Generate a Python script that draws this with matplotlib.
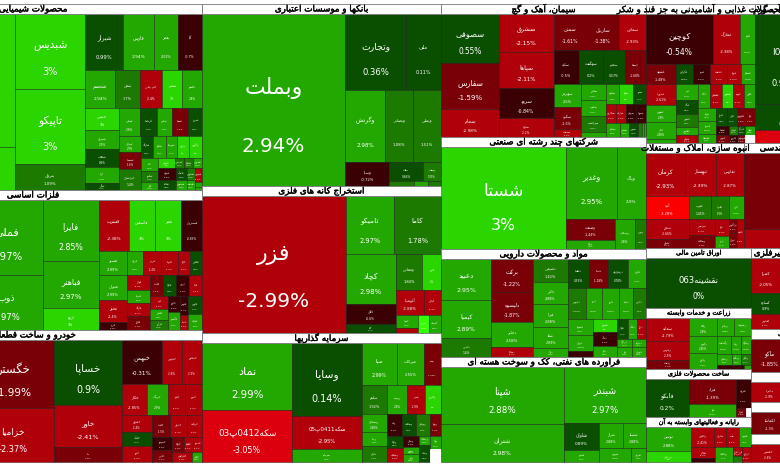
import re
import numpy as np
import matplotlib
matplotlib.use('Agg')
import matplotlib.pyplot as plt
import matplotlib.patheffects as pe
from matplotlib.colors import ListedColormap, BoundaryNorm
from matplotlib.patches import Rectangle

# strips: n > 0 stacks n tiles in a column on the left, n < 0 puts n tiles in a row on top
chem_title = 'محصولات شیمیایی'
chem_names = ['پارس', 'نوری', 'شفن', 'شبدیس', 'تاپیکو', 'بترول', 'شیراز', 'فارس', 'بفجر', 'آبا', 'شخصم', 'شفن', 'جم پیلن', 'شغدیر', 'پاکشو',
              'حدیس', 'شیران', 'شلعاب', 'آریا', 'شگل', 'شپلی', 'کرماشا', 'شپاس', 'شسپا', 'شبریز', 'شرانل', 'شسینا', 'خراسان', 'شاراک', 'شکلر', 'شوینده', 'مارون', 'زاگرس', 'لاله', 'شکبیر', 'کلر', 'شملی', 'شصدف', 'شتوکا', 'شدوص', 'شیری', 'شاملا', 'پلاسک', 'شپدیس', 'شپارس', 'دهدشت', 'شبهرن', 'شجم', 'شنفت']
chem_pcts = [3, 3, 3, 3, 3, 1.09, 0.99, 2.94, 2.01, -0.7, 2.94, 1.7, -2.4, 3, 2.8,
             3, 2.5, 0.6, 2.9, 0.4, 2.9, 0.9, 2.6, -1.5, 0.8, 2.9, -1.6, 1.4, 0.6, 2.8, 2.7, 3, 3, 2.5, 1.2, 2.4, 3, 1.3, 1.5, 2.6, -0.2, 0.5, 0.9, 2.9, 1.3, 2.5, -2.4, 2.7, 2.9]
chem_areas = [13376, 9975, 3225, 5250, 5250, 1820, 2128, 1736, 1344, 1344, 1140, 950, 836, 760, 760,
              748, 646, 612, 544, 238, 588, 476, 420, 448, 392, 352, 352, 462, 264, 286, 242, 264, 286, 221, 187, 136, 170, 90, 90, 90, 216, 180, 132, 110, 96, 80, 100, 30, 24]
chem_strips = [1, 2, 3, -4, -5, 5, -5, 3, -5, 3, -4, 2, 2, 2, 3]

metal_title = 'فلزات اساسی'
metal_names = ['فولاد', 'فملی', 'ذوب', 'فایرا', 'فباهنر', 'ارفع', 'فسرب', 'فاسمین', 'فجر', 'فسبزوار',
               'فسبز', 'فروی', 'هرمز', 'فلوله', 'کاوه', 'فخاس', 'فنوال', 'فخوز', 'فرود', 'فولاژ', 'فمراد', 'فاراک', 'فجام', 'فکمند', 'فافزا', 'ذوبین', 'فپنتا', 'فزر', 'فغدیر', 'فرآور', 'فالوم', 'فگستر', 'فتوس', 'فصبا', 'فارس', 'فولای']
metal_pcts = [2.9, 2.97, 2.97, 2.85, 2.97, 3, -2.38, 3, 3, -0.85,
              2.99, 2.5, -2.4, -2.6, -2.3, 0.8, 2.99, -2.4, -0.5, -2.4, 2.9, -2.3, -1.2, -1.2, 0.9, -0.5, -2.3, -2.1, 2.9, 1.2, -0.4, 2.8, -0.3, -2.5, 0.4, 2.9]
metal_areas = [13674, 5328, 3960, 3416, 2576, 1232, 1500, 1350, 1300, 1050,
               672, 408, 432, 408, 288, 288, 700, 616, 224, 330, 286, 286, 308, 280, 260, 280, 260, 221, 204, 170, 192, 228, 144, 120, 234, 221]
metal_strips = [1, 2, 3, -4, -6, 3, 4, -4, 3, 2, 2, 2]

auto_title = 'خودرو و ساخت قطعات'
auto_names = ['خودرو', 'خگستر', 'خزامیا', 'خساپا', 'خاور', 'ما', 'خبهمن', 'خپارس', 'خمحور',
              'خکار', 'خرینگ', 'خفنر', 'خمهر', 'خشرق', 'خکمک', 'ختور', 'خلنت', 'خدیزل', 'خریخت', 'خموتور', 'خاذین', 'ختوقا', 'خفولا', 'خنصیر', 'خچرخش', 'خلیبل']
auto_pcts = [-2.6, -1.99, -2.37, 0.9, -2.41, -1.5, -0.31, -2.6, -2.5,
             -2.85, 2.9, -2.6, -2.5, -2.4, 0.7, -2.3, -1.5, -2.4, -2.5, -0.5, -1.3, -1.4, -2.1, -2.3, -2.4, 2.6]
auto_areas = [13284, 5658, 4428, 4488, 2856, 1020, 1760, 880, 880,
              800, 672, 544, 544, 510, 420, 480, 396, 374, 330, 260, 240, 180, 135, 135, 200, 100]
auto_strips = [1, 2, 3, -3, -4, 3, -3, 2, -3, -2]

bank_title = 'بانکها و موسسات اعتباری'
bank_names = ['وبملت', 'وتجارت', 'ملی', 'وگردش', 'وبصادر', 'وبملی', 'وسپا', 'ملت', 'وپست', 'وزمین', 'وکار', 'وسینا']
bank_pcts = [2.94, 0.36, 0.11, 2.98, 1.08, 1.51, -0.72, 0.66, 1.09, 1.1, 2.6, 1.3]
bank_areas = [24596, 4560, 2660, 2880, 2016, 2016, 1056, 646, 342, 125, 70, 65]
bank_strips = [1, -2, -3, 1, -2, -3]

mine_title = 'استخراج کانه های فلزی'
mine_names = ['فزر', 'تامیکو', 'کاما', 'کچاد', 'کگل', 'کالا', 'ومعادن', 'کنور', 'آلومینا', 'کبافق', 'کسرا', 'کروی', 'کپرور', 'کمیناب']
mine_pcts = [-2.99, 2.97, 1.78, 2.98, -0.6, 0.7, 1.84, 3, -2.88, -2.4, 2.5, -2.3, 3.4, 2.8]
mine_areas = [19591, 2784, 2726, 2500, 1000, 450, 936, 684, 700, 425, 286, 110, 198, 216]
mine_strips = [1, -2, 3, -2, -2, 2, 1, 1]

inv_title = 'سرمایه گذاریها'
inv_names = ['نماد', 'سکه0412پ03', 'وسایا', 'سکه0411پ05', 'سرمایه', 'صبا', 'میرکات', 'پسته', 'سلیم', 'وبیمه', 'شمر', 'وخارزم',
             'وسبحان', 'وصنا', 'ثامان', 'ودی', 'وساخت', 'وبوعلی', 'وپویا', 'وتوکا', 'وسکاب', 'ونیکی', 'وسین', 'واتی', 'وصنعت', 'وملت', 'وآوا', '']
inv_pcts = [2.99, -3.05, 0.14, -2.95, 2.8, 2.99, 2.55, -1.08, 1.92, 2.6, -2.9, 3,
            2.98, 2.8, 1.7, -0.6, 0.9, 1.2, -1.4, 0.5, -2.6, -0.6, 2.8, 2.6, 2.8, 0.9, 2.9, np.nan]
inv_areas = [6030, 4680, 5037, 2277, 897, 1470, 1134, 714, 725, 580, 522, 464,
             450, 350, 400, 330, 308, 308, 242, 192, 224, 176, 112, 128, 99, 187, 143, 143]
inv_strips = [2, 3, -3, -4, 3, -4, 2, 3, 2, 2]

cem_title = 'سیمان، آهک و گچ'
cem_names = ['سصوفی', 'سفارس', 'سجام', 'سشرق', 'سپاها', 'سرود', 'ساوه', 'سمتن', 'ساربیل', 'سمازن', 'سلیه', 'سهگمت', 'سفانو', 'ایستا',
             'سهرمز', 'سکرد', 'سدشت', 'سخزر', 'سغرب', 'سرچشمه', 'سیلام', 'سکرما', 'سفار', 'سنیر', 'سکارون', 'ساراب', 'سبهان', 'سبزوا', 'سبجنو', 'سقاین', 'سنوین', 'سخاش', 'سپید', 'سیتا']
cem_pcts = [0.55, -1.59, -2.98, -2.15, -2.11, -0.84, -2.2, -1.61, -1.38, -2.93, -0.5, 0.2, 0.57, -1.68,
            2.5, -1.5, -2.2, 2.8, 2.7, 1.6, 2.7, 2.8, 3, 0.7, -2.3, -2.4, -0.6, -0.5, 2.9, 2.5, 0.9, 1.1, 2.6, 2.7]
cem_areas = [2842, 2668, 1624, 2052, 1944, 1620, 1026, 1188, 1152, 972, 850, 816, 748, 714,
             621, 594, 216, 400, 400, 400, 125, 260, 280, 260, 190, 190, 190, 190, 196, 126, 126, 50, 31, 31]
cem_strips = [3, 4, -3, -4, 3, 4, -3, -4, 1, 1, 1, 1, 1, 1]

multi_title = 'شرکتهای چند رشته ای صنعتی'
multi_names = ['شستا', 'وغدیر', 'وپاک', 'وصنعت', 'وتوکا', 'وسکاب', 'ونوین']
multi_pcts = [3, 2.95, 2.9, -1.44, 2.8, 2.8, 1.5]
multi_areas = [12648, 3600, 2088, 1008, 432, 600, 330]
multi_strips = [1, -2, 2, 1, 1]

pharm_title = 'مواد و محصولات دارویی'
pharm_names = ['دعبید', 'کیمیا', 'دامین', 'برکت', 'دلیسوه', 'دجابر', 'دسبحا', 'دشیمی', 'دالبر', 'فیرا', 'شفا', 'دفرا', 'دلقما', 'دتماد', 'دزهراوی',
               'دکوثر', 'دپارس', 'دروز', 'دارو', 'دسینا', 'دکیمی', 'داسوه', 'دیران', 'دتولید', 'دشیراز', 'دنیاک', 'داوه', 'دفارا', 'دبالک', 'ددام', 'درازک', 'دلر', 'دماوند', 'دتهران']
pharm_pcts = [2.95, 2.89, 1.4, -1.22, -1.87, 2.58, -2.4, 1.42, 2.88, 2.88, 2.89, 2.6, 0.53, -1.18, 0.78, 2.9,
              1.99, 2.88, 2.88, 2.88, 1.5, 2.8, 2.85, -0.6, 3, -0.5, 2.9, 0.7, 2.9, -2.4, 2.7, 2.6, 2.7, 2.8]
pharm_areas = [2009, 1862, 931, 1353, 1230, 1025, 410, 782, 748, 782, 714, 306, 588, 560, 560, 504,
               540, 480, 540, 420, 390, 391, 391, 138, 308, 308, 264, 221, 170, 170, 132, 144, 121, 132]
pharm_strips = [3, 4, 5, -4, -5, 3, 3, -3, 2, 2]

oil_title = 'فراورده های نفتی، کک و سوخت هسته ای'
oil_names = ['شپنا', 'شتران', 'شبندر', 'شاوان', 'شپترو', 'شراز', 'شسپا', 'شبهرن', 'شرانل']
oil_pcts = [2.88, 2.98, 2.97, 0.89, 2.8, 2.88, 2.88, 2.86, 2.9]
oil_areas = [6954, 4636, 4592, 945, 420, 575, 575, 434, 210]
oil_strips = [2, -1, 2, -2, -2]

food_title = 'محصولات غذایی و آشامیدنی به جز قند و شکر'
food_names = ['کوچین', 'غمارگ', 'غالبر', 'غشهد', 'غگرجی', 'غپینو', 'غدشت', 'غبهار', 'غسالم', 'غمهرا', 'غنوش', 'غاذر', 'غگل', 'غزر', 'غپاک', 'غدیس', 'غفارس',
              'غشان', 'غگلپا', 'غفشان', 'غبشهر', 'غپونه', 'غچین', 'غویتا', 'غصینو', 'غشصفا', 'غدام', 'غالی', 'غکورش', 'غلر', 'غنیشا', 'غیوان', 'غزاگر', 'غفرا', 'غتوس', 'غاروم', 'غبهنوش', '']
food_pcts = [-0.54, -2.38, 2.88, -1.48, 0.62, -0.6, -2.5, -2.48, 2.88, -2.61, 2.9, 2.88, 2.8, 2.9, 0.5, 1.8, 2.7, -2.3,
             2.9, -2.4, 3, -2.5, 2.9, 2.9, 2.95, 2.9, 0.5, 0.7, -1.5, -1.8, -0.5, 1.1, 0.6, 2.6, -1.4, -0.5, -1.5, np.nan]
food_areas = [3283, 1323, 735, 609, 357, 357, 357, 273, 294, 600, 510, 510, 120, 330, 308, 286, 176, 176,
              276, 276, 253, 253, 253, 234, 234, 162, 198, 180, 144, 180, 117, 81, 63, 90, 104, 72, 56, 80]
food_strips = [-3, -6, 4, 5, -5, 3, -4, -4, -4]

util_title = 'عرضه برق، گاز، بخار و آب گرم'
util_names = ['0410ا', 'مبرق', 'بندر', 'بمپنا']
util_pcts = [0.95, 0.55, -3.1, 0.8]
util_areas = [5400, 1560, 780, 6500]
util_strips = [3, 1]

build_title = 'انبوه سازی، املاک و مستغلات'
build_names = ['کرمان', 'ثبهساز', 'ثفارس', 'آنیه', 'ثغرب', 'ثعمرا', 'ثاژن', 'ثنظام', 'ثشرق', 'ثپردیس', 'وساخت', 'ثباغ', 'ثرود', 'ثزاگرس', 'ثتران', 'ثالوند']
build_pcts = [-2.93, -2.39, -2.87, -3.28, 1.45, 1.9, 2.88, -2.66, -1.3, -2.4, -1.6, -2.5, 2.7, -1.4, -1.5, -2.2]
build_areas = [1677, 1333, 1204, 989, 506, 414, 345, 860, 387, 416, 338, 238, 168, 112, 120, 203]
build_strips = [-3, -4, 2, 2, 2, 2, 1]

eng_title = 'فعالیتهای فنی و مهندسی'
eng_names = ['رتکو', 'ثامید']
eng_pcts = [-1.6, -2.4]
eng_areas = [9196, 2299]
eng_strips = [2]

bond_title = 'اوراق تامین مالی'
bond_names = ['نقشینه063']
bond_pcts = [0]
bond_areas = [5250]
bond_strips = [1]

agri_title = 'زراعت و خدمات وابسته'
agri_names = ['سمایه', 'زپارس', 'زدشت', 'زفکا', 'زکوثر', 'زقیام', 'زملارد', 'زشریف', 'زگلدشت', 'زبینا', 'زشگزا', 'زماهان', 'زمگسا', 'زنگان', 'زفجر', 'زمینا']
agri_pcts = [-2.79, -2.5, -1.4, 2.8, 2.85, 2.9, 2.88, 2.8, 2.88, 2.88, 2.88, 2.9, 2.8, 1.7, -0.5, 2.8]
agri_areas = [989, 817, 387, 486, 459, 432, 306, 306, 252, 180, 180, 165, 99, 110, 110, 26]
agri_strips = [3, 3, -2, -3, -3, -2]

fab_title = 'ساخت محصولات فلزی'
fab_names = ['فابکو', 'فزاد', 'فلز', 'فنرژی', 'فبیرا', '']
fab_pcts = [0.2, -1.39, 2.88, -0.5, -1.6, np.nan]
fab_areas = [1634, 1175, 611, 435, 90, 45]
fab_strips = [1, 2, -1, -2]

it_title = 'رایانه و فعالیت‌های وابسته به آن'
it_names = ['توسن', 'من اول', 'رافیق', 'مداران', 'سپ', 'هایوب', 'مفاخر', 'رانفور', 'پرداخت', 'فن افزار', 'تاپ', 'ارقام']
it_pcts = [2.88, 3, -2.41, -2.4, -2.3, 2.8, -2.4, -0.7, 2.7, -2.3, 1.1, -2.4]
it_areas = [1100, 484, 483, 252, 252, 252, 264, 96, 270, 81, 54, 135]
it_strips = [2, -4, 2, 1, 2, 1]

stone_title = 'سایر محصولات کانی غیرفلزی'
stone_names = ['کمرا', 'کساوه', 'کفپارس', 'کرازی']
stone_pcts = [-2.05, 0.9, -2.4, -2.2]
stone_areas = [1015, 609, 435, 6035]
stone_strips = [3, 1]

mach_title = 'ماشین آلات و تجهیزات'
mach_names = ['ماکو', 'تکمبا']
mach_pcts = [-1.85, -2.3]
mach_areas = [1122, 2300]
mach_strips = [1, 1]

elec_title = 'ماشین آلات برقی'
elec_names = ['مادیرا', 'بترانس']
elec_pcts = [-2.9, -2.4]
elec_areas = [714, 1500]
elec_strips = [1, 1]

text_title = 'منسوجات'
text_names = ['لکماشا', 'نطرین']
text_pcts = [-1.3, -1.7]
text_areas = [782, 1600]
text_strips = [1, 1]

ship_title = 'حمل و نقل'
ship_names = ['حکشتی', 'حپترو']
ship_pcts = [-2.6, -2.3]
ship_areas = [612, 1400]
ship_strips = [1, 1]

sector_areas = [62868, 47320, 44616, 43498, 35133, 30831, 27265, 22960, 22140, 21525,
                15151, 15290, 10290, 12705, 6300, 6405, 5040, 4725, 9234, 4902, 3420, 3648, 3192]
sector_strips = [3, 3, 4, -2, -2, 4, 5]

pct_bounds = [-99, -3.2, -3, -2, -1, 0, 1, 2, 3, 3.3, 99]
pct_colors = ['#fa0000', '#dc000e', '#b0000a', '#7a0008', '#3a0004', '#0a4f00', '#1d7a00', '#22a800', '#2bd600', '#33ff00']

cmap = ListedColormap(pct_colors)
norm = BoundaryNorm(pct_bounds, cmap.N)

TWO = {'آ': 0xFE81, 'أ': 0xFE83, 'ؤ': 0xFE85, 'إ': 0xFE87, 'ا': 0xFE8D, 'ة': 0xFE93, 'د': 0xFEA9, 'ذ': 0xFEAB,
       'ر': 0xFEAD, 'ز': 0xFEAF, 'و': 0xFEED, 'ژ': 0xFB8A}
FOUR = {'ئ': 0xFE89, 'ب': 0xFE8F, 'ت': 0xFE95, 'ث': 0xFE99, 'ج': 0xFE9D, 'ح': 0xFEA1, 'خ': 0xFEA5, 'س': 0xFEB1, 'ش': 0xFEB5,
        'ص': 0xFEB9, 'ض': 0xFEBD, 'ط': 0xFEC1, 'ظ': 0xFEC5, 'ع': 0xFEC9, 'غ': 0xFECD, 'ف': 0xFED1, 'ق': 0xFED5, 'ل': 0xFEDD,
        'م': 0xFEE1, 'ن': 0xFEE5, 'ه': 0xFEE9, 'پ': 0xFB56, 'چ': 0xFB7A, 'ک': 0xFB8E, 'گ': 0xFB92, 'ی': 0xFBFC}
LAM_ALEF = {'ا': 0xFEFB, 'آ': 0xFEF5}


# matplotlib does no arabic shaping, so pick presentation forms and reverse by hand
def shape(text):
    text = text.replace('\u200c', '')
    out = []
    i = 0
    joins = False
    while i < len(text):
        c = text[i]
        nxt = text[i + 1] if i + 1 < len(text) else ''
        if c == 'ل' and nxt in LAM_ALEF:
            out.append(chr(LAM_ALEF[nxt] + (1 if joins else 0)))
            joins = False
            i += 2
            continue
        if c in FOUR:
            next_joins = nxt in FOUR or nxt in TWO
            # forms run isolated, final, initial, medial
            out.append(chr(FOUR[c] + (1 if joins else 0) + (2 if next_joins else 0)))
            joins = next_joins
        elif c in TWO:
            out.append(chr(TWO[c] + (1 if joins else 0)))
            joins = False
        else:
            out.append(c)
            joins = False
        i += 1
    parts = re.findall(r'[0-9]+|[^0-9]+', ''.join(out))
    return ''.join(p if p[0].isdigit() else p[::-1] for p in reversed(parts))


def lay_out(weights, strips, x0, y0, x1, y1):
    assert sum(abs(n) for n in strips) == len(weights), strips
    rects = []
    i = 0
    for n in strips:
        chunk = weights[i:i + abs(n)]
        rest = sum(weights[i:])
        share = sum(chunk) / rest
        pos = 0
        if n > 0:
            w = (x1 - x0) * share
            for v in chunk:
                h = (y1 - y0) * v / sum(chunk)
                rects.append((x0, y0 + pos, w, h))
                pos += h
            x0 += w
        else:
            h = (y1 - y0) * share
            for v in chunk:
                w = (x1 - x0) * v / sum(chunk)
                rects.append((x0 + pos, y0, w, h))
                pos += w
            y0 += h
        i += abs(n)
    return rects


sectors = [(chem_title, chem_names, chem_pcts, chem_areas, chem_strips),
           (metal_title, metal_names, metal_pcts, metal_areas, metal_strips),
           (auto_title, auto_names, auto_pcts, auto_areas, auto_strips),
           (bank_title, bank_names, bank_pcts, bank_areas, bank_strips),
           (mine_title, mine_names, mine_pcts, mine_areas, mine_strips),
           (inv_title, inv_names, inv_pcts, inv_areas, inv_strips),
           (cem_title, cem_names, cem_pcts, cem_areas, cem_strips),
           (multi_title, multi_names, multi_pcts, multi_areas, multi_strips),
           (pharm_title, pharm_names, pharm_pcts, pharm_areas, pharm_strips),
           (oil_title, oil_names, oil_pcts, oil_areas, oil_strips),
           (food_title, food_names, food_pcts, food_areas, food_strips),
           (util_title, util_names, util_pcts, util_areas, util_strips),
           (build_title, build_names, build_pcts, build_areas, build_strips),
           (eng_title, eng_names, eng_pcts, eng_areas, eng_strips),
           (bond_title, bond_names, bond_pcts, bond_areas, bond_strips),
           (agri_title, agri_names, agri_pcts, agri_areas, agri_strips),
           (fab_title, fab_names, fab_pcts, fab_areas, fab_strips),
           (it_title, it_names, it_pcts, it_areas, it_strips),
           (stone_title, stone_names, stone_pcts, stone_areas, stone_strips),
           (mach_title, mach_names, mach_pcts, mach_areas, mach_strips),
           (elec_title, elec_names, elec_pcts, elec_areas, elec_strips),
           (text_title, text_names, text_pcts, text_areas, text_strips),
           (ship_title, ship_names, ship_pcts, ship_areas, ship_strips)]

fig = plt.figure(figsize=(7.8, 4.7), dpi=100)
ax = fig.add_axes([0, 0, 1, 1])
ax.set_xlim(0, 780)
ax.set_ylim(470, 0)
ax.axis('off')

sector_rects = lay_out(sector_areas, sector_strips, -136, 4, 865, 462)
TITLE_H = 10
for (title, names, pcts, areas, strips), (sx, sy, sw, sh) in zip(sectors, sector_rects):
    assert len(names) == len(pcts) == len(areas), title
    tiles = lay_out(areas, strips, sx, sy + TITLE_H, sx + sw, sy + sh)
    for name, pct, (x, y, w, h) in zip(names, pcts, tiles):
        if np.isnan(pct):
            ax.add_patch(Rectangle((x, y), w, h, facecolor='white', edgecolor='white', linewidth=0.6))
            continue
        rect = Rectangle((x, y), w, h, facecolor=cmap(norm(pct)), edgecolor=(0, 0, 0, 0.45), linewidth=0.6)
        ax.add_patch(rect)
        if w < 6 or h < 6:
            continue
        size = max(2.3, 0.14 * min(w, 1.1 * h)) * 0.72
        t1 = ax.text(x + w / 2, y + h * 0.43, shape(name), color='white', fontsize=size * 1.1, ha='center', va='center')
        t2 = ax.text(x + w / 2, y + h * 0.77, f'{pct:g}%', color='white', fontsize=size, ha='center', va='center')
        t1.set_clip_path(rect)
        t2.set_clip_path(rect)

for (title, names, pcts, areas, strips), (sx, sy, sw, sh) in zip(sectors, sector_rects):
    ax.add_patch(Rectangle((sx, sy), sw, TITLE_H, facecolor='white', edgecolor='#777777', linewidth=0.6, zorder=5))
    ax.text(sx + sw / 2, sy + TITLE_H / 2, shape(title), color='black', fontsize=6.3 if sh > 70 else 4.6,
            ha='center', va='center', zorder=6,
            path_effects=[pe.withStroke(linewidth=0.25, foreground='black')])

fig.savefig('out.png', dpi=100)
